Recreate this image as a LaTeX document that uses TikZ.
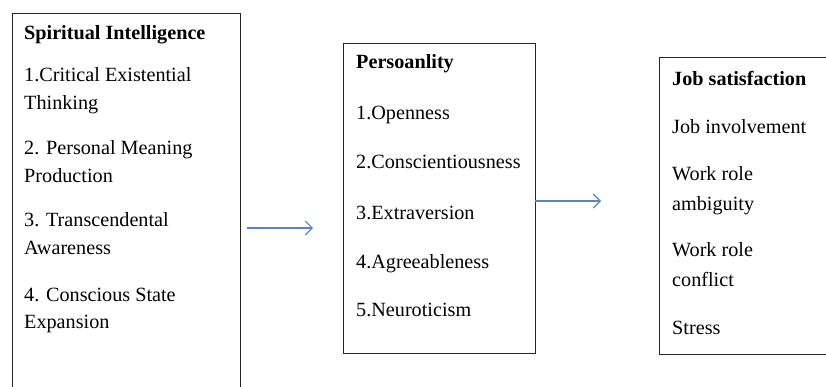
\documentclass[tikz,border=0pt]{standalone}
\usepackage{fontspec}
\setmainfont{Liberation Serif}
\usetikzlibrary{arrows.meta}
\definecolor{arrblue}{HTML}{5585C8}
\begin{document}
\begin{tikzpicture}[x=1pt,y=-1pt,
  boxstyle/.style={draw=black!85,line width=1.2pt,inner sep=0pt,anchor=north west},
  txt/.style={anchor=base west,inner sep=0pt,font=\fontsize{20.2}{24}\selectfont},
  hdr/.style={txt,font=\fontsize{20.2}{24}\selectfont\bfseries},
  arr/.style={draw=arrblue,line width=1.1pt,-{Straight Barb[length=7pt,width=14pt,line width=1.1pt]}}]
\useasboundingbox (0,0) rectangle (826,386);
\begin{scope}
\clip (0,0) rectangle (826,386);
\node[boxstyle,minimum width=228pt,minimum height=400pt] (b1) at (12,13) {};
\node[boxstyle,minimum width=192pt,minimum height=310pt] (b2) at (343,43) {};
\node[boxstyle,minimum width=200pt,minimum height=297pt] (b3) at (659,57) {};
\end{scope}
% box 1 texts
\node[hdr] (t11) at (24,39) {Spiritual Intelligence};
\node[txt] (t12) at (24,81) {1.Critical Existential};
\node[txt] (t13) at (24,109) {Thinking};
\node[txt] (t14) at (24,154) {2. Personal Meaning};
\node[txt] (t15) at (24,182) {Production};
\node[txt] (t16) at (24,226) {3. Transcendental};
\node[txt] (t17) at (24,254) {Awareness};
\node[txt] (t18) at (24,301) {4. Conscious State};
\node[txt] (t19) at (24,328) {Expansion};
% box 2 texts
\node[hdr] (t21) at (356,68) {Persoanlity};
\node[txt] (t22) at (356,119) {1.Openness};
\node[txt] (t23) at (356,168) {2.Conscientiousness};
\node[txt] (t24) at (356,219) {3.Extraversion};
\node[txt] (t25) at (356,268) {4.Agreeableness};
\node[txt] (t26) at (356,316) {5.Neuroticism};
% box 3 texts
\node[hdr] (t31) at (672,85) {Job satisfaction};
\node[txt] (t32) at (672,133) {Job involvement};
\node[txt] (t33) at (672,180) {Work role};
\node[txt] (t34) at (672,210) {ambiguity};
\node[txt] (t35) at (672,256) {Work role};
\node[txt] (t36) at (672,286) {conflict};
\node[txt] (t37) at (672,334) {Stress};
% arrows
\coordinate (a1s) at (247,228);
\coordinate (a1e) at (313,228);
\coordinate (a2s) at (535,201);
\coordinate (a2e) at (601,201);
\draw[arr] (a1s) -- (a1e);
\draw[arr] (a2s) -- (a2e);
\end{tikzpicture}
\end{document}
